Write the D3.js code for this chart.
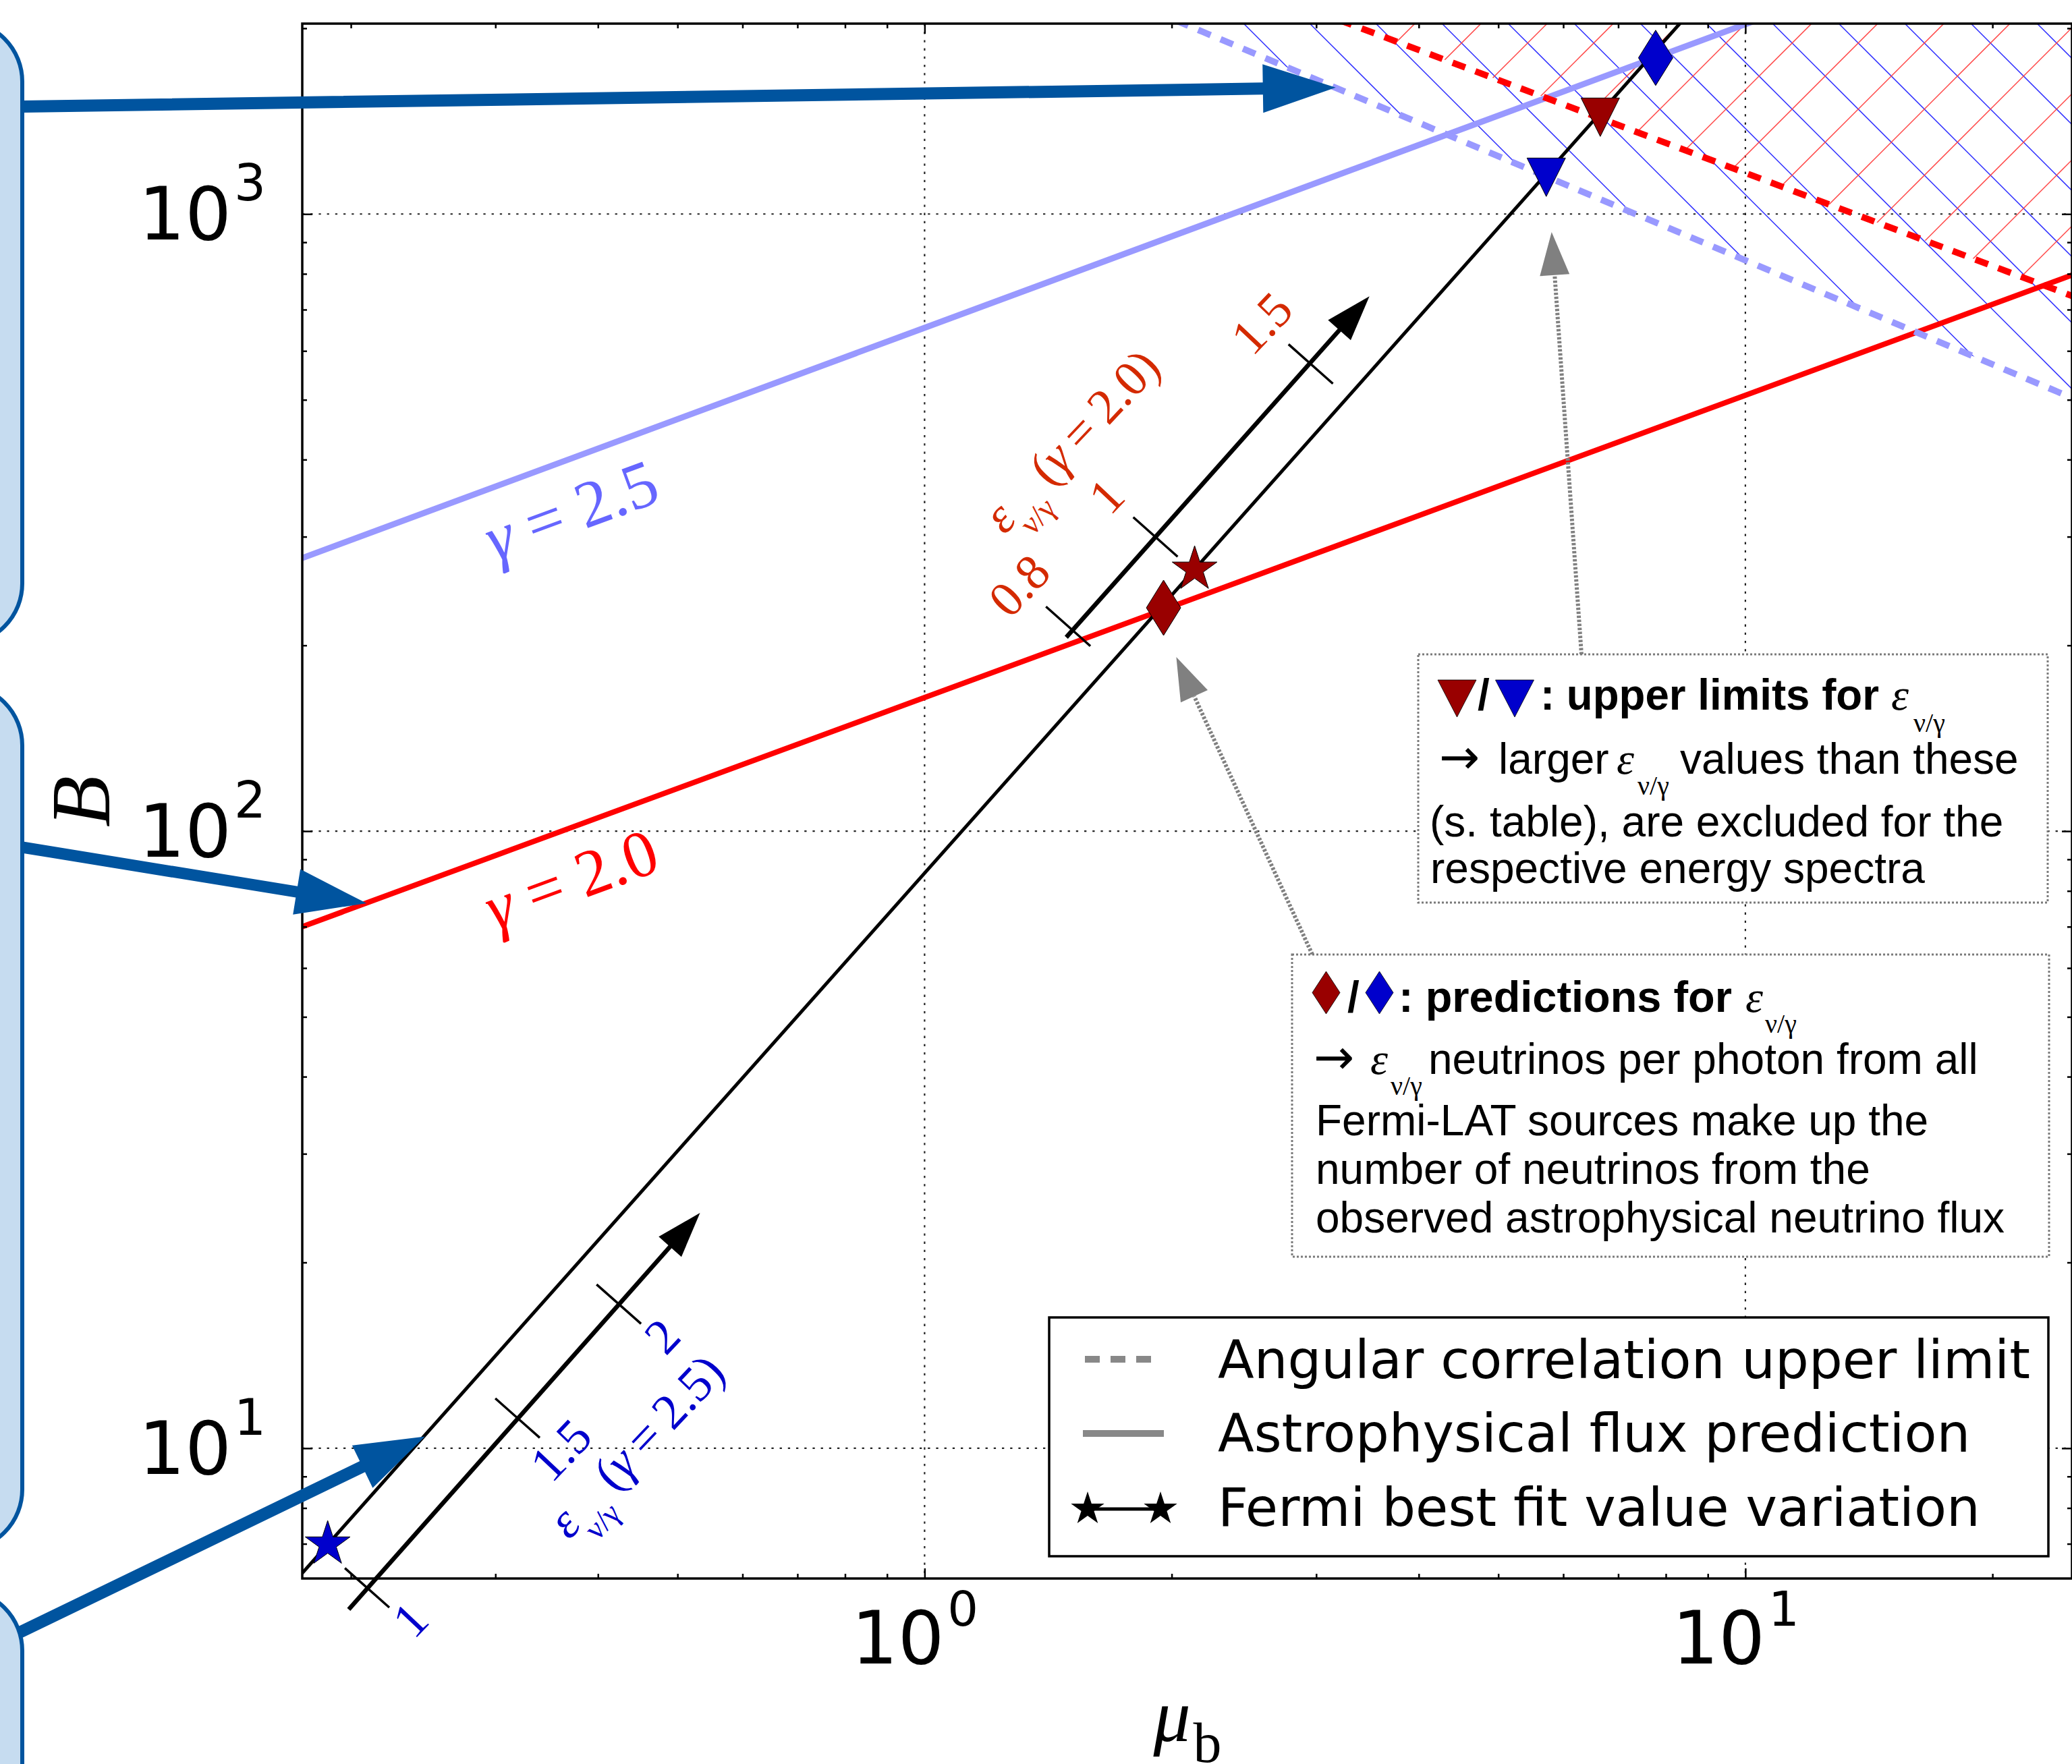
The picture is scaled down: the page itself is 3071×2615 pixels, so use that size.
<!DOCTYPE html>
<html>
<head>
<meta charset="utf-8">
<script src="https://cdn.jsdelivr.net/npm/d3@7/dist/d3.min.js"></script>
<style>
html,body{margin:0;padding:0;background:#fff;}
svg{display:block;}
</style>
</head>
<body>
<svg id="chart" width="3071" height="2615" xmlns="http://www.w3.org/2000/svg"></svg>
<script>
// ---------------- data ----------------
const xDomain = [0.1745, 25];            // mu_b
const yDomain = [6.15, 2035];            // B
const xMajorTicks = [1, 10];
const xMajorExp = ["0", "1"];
const yMajorTicks = [10, 100, 1000];
const yMajorExp = ["1", "2", "3"];
const xMinorTicks = [0.2,0.3,0.4,0.5,0.6,0.7,0.8,0.9,2,3,4,5,6,7,8,9,20];
const yMinorTicks = [7,8,9,20,30,40,50,60,70,80,90,200,300,400,500,600,700,800,900,2000];

// astrophysical flux prediction (solid lines)
const fluxG25 = [[0.16, 265.5], [11, 2128]];
const fluxG20 = [[0.16, 67.1], [28, 841.8]];
// angular correlation upper limit (dashed lines)
const limitG25 = [[1.9, 2133], [28, 472.7]];
const limitG20 = [[3.0, 2130], [28, 696.2]];
// Fermi best fit value variation
const fermiLine = [[0.16, 5.51], [9.0, 2289]];
const fermiStarMu = [0.1874, 2.133];
const fermiStarB  = [6.99, 265.6];
const fermiStarGamma = ["2.5", "2.0"];
// predictions (diamonds)
const predMu = [1.955, 7.775];
const predB  = [230.1, 1791];
const predGamma = ["2.0", "2.5"];
// upper limits (down triangles)
const limMu = [6.656, 5.72];
const limB  = [1435, 1147];
const limGamma = ["2.0", "2.5"];
// epsilon scales along the Fermi line
const scaleG20 = {start: [1.488, 206.1], tip: [3.483, 735.6]};
const scaleG20Labels = ["0.8", "1", "1.5"];
const scaleG20Mu = [1.496, 1.911, 2.954];
const scaleG20B  = [214.7, 299.7, 571.5];
const scaleG25 = {start: [0.1988, 5.48], tip: [0.5326, 24.06]};
const scaleG25Labels = ["1", "1.5", "2"];
const scaleG25Mu = [0.2093, 0.3192, 0.4241];
const scaleG25B  = [5.94, 11.19, 17.12];
const scaleTitleGamma = ["2.0", "2.5"];
const scaleTitleMu = [1.5198, 0.448];
const scaleTitleB  = [425.4, 10.0];
// gamma labels on the flux lines
const gammaLabelText = ["2.5", "2.0"];
const gammaLabelMu = [0.3790, 0.3790];
const gammaLabelB  = [306, 77.2];
// annotation arrow targets (data)
const noteTipMu = [5.807, 2.026];
const noteTipB  = [935, 191.5];
// big arrow targets (data)
const bigTipMu = [3.169, 0.209, 0.2462];
const bigTipB  = [1603, 76.4, 10.45];
// legend
const legendLabels = ["Angular correlation upper limit", "Astrophysical flux prediction", "Fermi best fit value variation"];
// text notes
const note1Lines = [": upper limits for", "larger", "values than these", "(s. table), are excluded for the", "respective energy spectra"];
const note2Lines = [": predictions for", "neutrinos per photon from all", "Fermi-LAT sources make up the", "number of neutrinos from the", "observed astrophysical neutrino flux"];

// ---------------- styles / layout ----------------
const W = 3071, H = 2615;
const plot = {left: 448, right: 3071, top: 35, bottom: 2340};
const COL = {
  g20: "#ff0000", g25: "#9999ff", g25text: "#6666ff",
  dark20: "#990000", dark25: "#0000cc",
  lab20: "#d42a00", lab25: "#0000cc",
  navy: "#00549f", boxFill: "#c6dcf0", gray: "#888888"
};
const SANS = "'Liberation Sans', Arial, sans-serif";
const DEJA = "'DejaVu Sans', sans-serif";
const SERIF = "'Liberation Serif', 'Times New Roman', serif";

const svg = d3.select("#chart");
svg.append("rect").attr("width", W).attr("height", H).attr("fill", "#fff");
const defs = svg.append("defs");

const x = d3.scaleLog().domain(xDomain).range([plot.left, plot.right]);
const y = d3.scaleLog().domain(yDomain).range([plot.bottom, plot.top]);
const line = d3.line().x(d => x(d[0])).y(d => y(d[1]));

defs.append("clipPath").attr("id", "plotClip").append("rect")
  .attr("x", plot.left).attr("y", plot.top)
  .attr("width", plot.right - plot.left).attr("height", plot.bottom - plot.top);

const gPlot = svg.append("g").attr("clip-path", "url(#plotClip)");

// gridlines
xMajorTicks.forEach(v => {
  gPlot.append("line").attr("x1", x(v)).attr("x2", x(v)).attr("y1", plot.top).attr("y2", plot.bottom)
    .attr("stroke", "#222").attr("stroke-width", 2.2).attr("stroke-dasharray", "3.3,8.9");
});
yMajorTicks.forEach(v => {
  gPlot.append("line").attr("y1", y(v)).attr("y2", y(v)).attr("x1", plot.left).attr("x2", plot.right)
    .attr("stroke", "#222").attr("stroke-width", 2.2).attr("stroke-dasharray", "3.3,8.9");
});

// hatched excluded regions
function hatchRegion(id, limit, dir, phase, color) {
  const poly = limit.concat([[limit[limit.length - 1][0], limit[0][1]]]);
  defs.append("clipPath").attr("id", id).append("path").attr("d", line(poly) + "Z");
  const g = gPlot.append("g").attr("clip-path", `url(#${id})`);
  const P = 98, y0 = plot.top - 200, y1 = plot.bottom + 200;
  d3.range(-40, 60).forEach(k => {
    const c = phase + k * P;
    if (dir === "back") {       // x - y = c
      g.append("line").attr("x1", c + y0).attr("y1", y0).attr("x2", c + y1).attr("y2", y1)
        .attr("stroke", color).attr("stroke-width", 1.5);
    } else {                    // x + y = c
      g.append("line").attr("x1", c - y0).attr("y1", y0).attr("x2", c - y1).attr("y2", y1)
        .attr("stroke", color).attr("stroke-width", 1.5);
    }
  });
}
hatchRegion("hatch25", limitG25, "back", 44.4, "#3333ff");
hatchRegion("hatch20", limitG20, "fwd", 74, "#ff4444");

// flux prediction lines
gPlot.append("path").attr("d", line(fluxG25)).attr("fill", "none").attr("stroke", COL.g25).attr("stroke-width", 9);
gPlot.append("path").attr("d", line(fluxG20)).attr("fill", "none").attr("stroke", COL.g20).attr("stroke-width", 8);
// angular correlation upper limits
gPlot.append("path").attr("d", line(limitG25)).attr("fill", "none").attr("stroke", COL.g25).attr("stroke-width", 9.5).attr("stroke-dasharray", "20,16");
gPlot.append("path").attr("d", line(limitG20)).attr("fill", "none").attr("stroke", COL.g20).attr("stroke-width", 9.5).attr("stroke-dasharray", "20,16");
// Fermi line
gPlot.append("path").attr("d", line(fermiLine)).attr("fill", "none").attr("stroke", "#000").attr("stroke-width", 5);

// ---------------- epsilon scales ----------------
function drawScale(sc, labels, mus, Bs, side, col, labelOff, labelAlong) {
  const g = svg.append("g");
  const p0 = [x(sc.start[0]), y(sc.start[1])], p1 = [x(sc.tip[0]), y(sc.tip[1])];
  const dx = p1[0] - p0[0], dy = p1[1] - p0[1], L = Math.hypot(dx, dy);
  const ux = dx / L, uy = dy / L, nx = uy, ny = -ux;
  const headL = 67, headW = 45;
  const bx = p1[0] - ux * headL, by = p1[1] - uy * headL;
  g.append("line").attr("x1", p0[0]).attr("y1", p0[1]).attr("x2", bx + ux * 3).attr("y2", by + uy * 3)
    .attr("stroke", "#000").attr("stroke-width", 6.5);
  g.append("path").attr("d", `M${p1[0]},${p1[1]}L${bx + nx * headW / 2},${by + ny * headW / 2}L${bx - nx * headW / 2},${by - ny * headW / 2}Z`)
    .attr("fill", "#000");
  labels.forEach((lab, i) => {
    const px = x(mus[i]), py = y(Bs[i]);
    g.append("line").attr("x1", px + nx * 44).attr("y1", py + ny * 44).attr("x2", px - nx * 44).attr("y2", py - ny * 44)
      .attr("stroke", "#000").attr("stroke-width", 3.5);
    const lx = px + side * nx * labelOff + ux * labelAlong, ly = py + side * ny * labelOff + uy * labelAlong;
    g.append("text").attr("transform", `translate(${lx},${ly}) rotate(-46.5)`)
      .attr("text-anchor", "middle").attr("dy", "0.33em")
      .attr("font-family", SERIF).attr("font-size", 74).attr("fill", col).text(lab);
  });
}
drawScale(scaleG20, scaleG20Labels, scaleG20Mu, scaleG20B, 1, COL.lab20, 94, -3);
drawScale(scaleG25, scaleG25Labels, scaleG25Mu, scaleG25B, -1, COL.lab25, 80, 7);

scaleTitleGamma.forEach((gm, i) => {
  const col = gm === "2.0" ? COL.lab20 : COL.lab25;
  const t = svg.append("text")
    .attr("transform", `translate(${x(scaleTitleMu[i])},${y(scaleTitleB[i])}) rotate(-46.5)`)
    .attr("text-anchor", "middle").attr("y", 20)
    .attr("font-family", SERIF).attr("font-size", 74).attr("fill", col);
  t.append("tspan").attr("font-style", "italic").text("ε");
  t.append("tspan").attr("font-size", 46).attr("dy", 31).attr("dx", -1).text("ν/γ");
  t.append("tspan").attr("dy", -31).attr("dx", 16).text("(");
  t.append("tspan").attr("font-style", "italic").text("γ");
  t.append("tspan").text("\u2009=\u2009" + gm + ")");
});

// ---------------- markers ----------------
const starPath = R => d3.symbol(d3.symbolStar, R * R / 0.8908130915292852)();
function triDown(w, h) { return `M0,${h / 2}L${-w / 2},${-h / 2}L${w / 2},${-h / 2}Z`; }
function thinDiamond(w, h) { return `M0,${-h / 2}L${w / 2},0L0,${h / 2}L${-w / 2},0Z`; }
const colOf = gm => gm === "2.0" ? COL.dark20 : COL.dark25;

limMu.forEach((m, i) => {
  svg.append("path").attr("d", triDown(57, 57)).attr("transform", `translate(${x(m)},${y(limB[i])})`)
    .attr("fill", colOf(limGamma[i])).attr("stroke", "#000").attr("stroke-width", 1);
});
predMu.forEach((m, i) => {
  svg.append("path").attr("d", thinDiamond(51, 82)).attr("transform", `translate(${x(m)},${y(predB[i])})`)
    .attr("fill", colOf(predGamma[i])).attr("stroke", "#000").attr("stroke-width", 1);
});
fermiStarMu.forEach((m, i) => {
  svg.append("path").attr("d", starPath(35)).attr("transform", `translate(${x(m)},${y(fermiStarB[i])})`)
    .attr("fill", colOf(fermiStarGamma[i])).attr("stroke", "#000").attr("stroke-width", 1);
});

// gamma labels on the flux lines
gammaLabelText.forEach((gm, i) => {
  const t = svg.append("text")
    .attr("transform", `translate(${x(gammaLabelMu[i])},${y(gammaLabelB[i])}) rotate(-20.2)`)
    .attr("text-anchor", "middle").attr("font-family", SERIF).attr("font-size", 98)
    .attr("fill", gm === "2.5" ? COL.g25text : COL.g20);
  t.append("tspan").attr("font-style", "italic").text("γ");
  t.append("tspan").text(" = " + gm);
});

// ---------------- annotation notes ----------------
const box1 = {x: 2102, y: 970, w: 933, h: 368};
const box2 = {x: 1915, y: 1415, w: 1122, h: 448};

function grayArrow(tail, tipMu, tipB) {
  const tip = [x(tipMu), y(tipB)];
  const dx = tip[0] - tail[0], dy = tip[1] - tail[1], L = Math.hypot(dx, dy);
  const ux = dx / L, uy = dy / L, nx = -uy, ny = ux;
  const hl = 64, hw = 44;
  const bx = tip[0] - ux * hl, by = tip[1] - uy * hl;
  svg.append("line").attr("x1", tail[0]).attr("y1", tail[1]).attr("x2", bx).attr("y2", by)
    .attr("stroke", "#808080").attr("stroke-width", 6).attr("stroke-dasharray", "3.5,2.5");
  svg.append("path").attr("d", `M${tip[0]},${tip[1]}L${bx + nx * hw / 2},${by + ny * hw / 2}L${bx - nx * hw / 2},${by - ny * hw / 2}Z`)
    .attr("fill", "#808080");
}
grayArrow([2344, box1.y], noteTipMu[0], noteTipB[0]);
grayArrow([1945, box2.y], noteTipMu[1], noteTipB[1]);

[box1, box2].forEach(b => {
  svg.append("rect").attr("x", b.x).attr("y", b.y).attr("width", b.w).attr("height", b.h)
    .attr("fill", "#fff").attr("stroke", "#7a7a7a").attr("stroke-width", 3).attr("stroke-dasharray", "3,3");
});

function txt(xx, yy, s, o) {
  o = o || {};
  const t = svg.append("text").attr("x", xx).attr("y", yy)
    .attr("font-family", o.family || SANS).attr("font-size", o.size || 64)
    .attr("font-weight", o.weight || "normal").attr("font-style", o.style || "normal")
    .attr("fill", o.fill || "#000").text(s);
  if (o.len) t.attr("textLength", o.len).attr("lengthAdjust", "spacingAndGlyphs");
  return t;
}
// note 1
svg.append("path").attr("d", triDown(57, 55)).attr("transform", "translate(2159.5,1035.5)").attr("fill", COL.dark20).attr("stroke", "#000").attr("stroke-width", 0.8);
svg.append("path").attr("d", triDown(57, 55)).attr("transform", "translate(2245,1035.5)").attr("fill", COL.dark25).attr("stroke", "#000").attr("stroke-width", 0.8);
txt(2190, 1052, "/", {weight: "bold", size: 64});
txt(2283, 1052, note1Lines[0], {weight: "bold", size: 64, len: 502});
txt(2803, 1052, "ε", {family: SERIF, style: "italic", size: 66});
txt(2836, 1085, "ν/γ", {family: SERIF, size: 40});
txt(2133, 1147, "→", {family: DEJA, size: 72});
txt(2221, 1147, note1Lines[1], {size: 64});
txt(2396, 1147, "ε", {family: SERIF, style: "italic", size: 66});
txt(2427, 1178, "ν/γ", {family: SERIF, size: 40});
txt(2490, 1147, note1Lines[2], {size: 64});
txt(2119, 1240, note1Lines[3], {size: 64});
txt(2120, 1309, note1Lines[4], {size: 64});
// note 2
svg.append("path").attr("d", thinDiamond(41, 63)).attr("transform", "translate(1965.5,1471.5)").attr("fill", COL.dark20).attr("stroke", "#000").attr("stroke-width", 0.8);
svg.append("path").attr("d", thinDiamond(41, 63)).attr("transform", "translate(2044.5,1471.5)").attr("fill", COL.dark25).attr("stroke", "#000").attr("stroke-width", 0.8);
txt(1997, 1500, "/", {weight: "bold", size: 64});
txt(2073, 1500, note2Lines[0], {weight: "bold", size: 64, len: 494});
txt(2587, 1500, "ε", {family: SERIF, style: "italic", size: 66});
txt(2616, 1531, "ν/γ", {family: SERIF, size: 40});
txt(1947, 1592, "→", {family: DEJA, size: 72});
txt(2031, 1592, "ε", {family: SERIF, style: "italic", size: 66});
txt(2061, 1623, "ν/γ", {family: SERIF, size: 40});
txt(2117, 1592, note2Lines[1], {size: 64});
txt(1950, 1683, note2Lines[2], {size: 64});
txt(1950, 1755, note2Lines[3], {size: 64});
txt(1950, 1827, note2Lines[4], {size: 64});

// ---------------- legend ----------------
const lg = {x: 1555, y: 1953, w: 1481, h: 354};
svg.append("rect").attr("x", lg.x).attr("y", lg.y).attr("width", lg.w).attr("height", lg.h)
  .attr("fill", "#fff").attr("stroke", "#000").attr("stroke-width", 3.5);
const rowsY = [2015, 2125, 2237];
const baseY = [2043, 2152, 2262];
svg.append("line").attr("x1", 1608).attr("x2", 1720).attr("y1", rowsY[0]).attr("y2", rowsY[0])
  .attr("stroke", COL.gray).attr("stroke-width", 10).attr("stroke-dasharray", "22,16");
svg.append("line").attr("x1", 1605).attr("x2", 1725).attr("y1", rowsY[1]).attr("y2", rowsY[1])
  .attr("stroke", COL.gray).attr("stroke-width", 10);
svg.append("line").attr("x1", 1612).attr("x2", 1720).attr("y1", rowsY[2]).attr("y2", rowsY[2])
  .attr("stroke", "#000").attr("stroke-width", 5);
[1612, 1720].forEach(sx => {
  svg.append("path").attr("d", starPath(26)).attr("transform", `translate(${sx},${rowsY[2]})`).attr("fill", "#000");
});
legendLabels.forEach((s, i) => txt(1805, baseY[i], s, {family: DEJA, size: 78.5}));

// ---------------- axes: spines, ticks, labels ----------------
const axG = svg.append("g");
function addAxis(fn, scale, vals, size, tr) {
  const a = fn(scale).tickValues(vals).tickSize(size).tickFormat("");
  const g = axG.append("g").attr("transform", tr).call(a);
  g.select(".domain").remove();
  g.selectAll("text").remove();
  g.selectAll(".tick line").attr("stroke", "#000").attr("stroke-width", 2.5);
}
addAxis(d3.axisBottom, x, xMajorTicks, -15, `translate(0,${plot.bottom})`);
addAxis(d3.axisBottom, x, xMinorTicks, -7, `translate(0,${plot.bottom})`);
addAxis(d3.axisTop, x, xMajorTicks, -15, `translate(0,${plot.top})`);
addAxis(d3.axisTop, x, xMinorTicks, -7, `translate(0,${plot.top})`);
addAxis(d3.axisLeft, y, yMajorTicks, -15, `translate(${plot.left},0)`);
addAxis(d3.axisLeft, y, yMinorTicks, -7, `translate(${plot.left},0)`);
addAxis(d3.axisRight, y, yMajorTicks, -15, `translate(${plot.right},0)`);
addAxis(d3.axisRight, y, yMinorTicks, -7, `translate(${plot.right},0)`);
axG.append("rect").attr("x", plot.left).attr("y", plot.top)
  .attr("width", plot.right - plot.left).attr("height", plot.bottom - plot.top)
  .attr("fill", "none").attr("stroke", "#000").attr("stroke-width", 3.5);

yMajorTicks.forEach((v, i) => {
  txt(343, y(v) + 38, "10", {family: DEJA, size: 108}).attr("text-anchor", "end");
  txt(347, y(v) - 20, yMajorExp[i], {family: DEJA, size: 74});
});
xMajorTicks.forEach((v, i) => {
  txt(x(v) + 29, plot.bottom + 126, "10", {family: DEJA, size: 108}).attr("text-anchor", "end");
  txt(x(v) + 34, plot.bottom + 70, xMajorExp[i], {family: DEJA, size: 72});
});
// axis titles
svg.append("text").attr("transform", "translate(118,1188) rotate(-90)")
  .attr("text-anchor", "middle").attr("dy", "0.35em")
  .attr("font-family", SERIF).attr("font-style", "italic").attr("font-size", 125).text("B");
{
  const t = svg.append("text").attr("x", 1760).attr("y", 2581).attr("text-anchor", "middle")
    .attr("font-family", SERIF).attr("font-size", 110);
  t.append("tspan").attr("font-style", "italic").text("μ");
  t.append("tspan").attr("font-size", 84).attr("dy", 31).attr("dx", 4).text("b");
}

// ---------------- left boxes and big arrows ----------------
const leftBoxes = [[31, 955], [1015, 2298], [2357, 3000]];
leftBoxes.forEach(b => {
  svg.append("rect").attr("x", -200).attr("y", b[0]).attr("width", 233).attr("height", b[1] - b[0])
    .attr("rx", 90).attr("ry", 90).attr("fill", COL.boxFill).attr("stroke", COL.navy).attr("stroke-width", 6);
});
const bigTails = [[33, 158], [33, 1256], [29, 2420]];
const bigHeads = [[18, 72, 108], [17, 68, 105], [18, 70, 103]];
bigTipMu.forEach((m, i) => {
  const tip = [x(m), y(bigTipB[i])], tail = bigTails[i];
  const [sw, hw, hl] = bigHeads[i];
  const dx = tip[0] - tail[0], dy = tip[1] - tail[1], L = Math.hypot(dx, dy);
  const ux = dx / L, uy = dy / L, nx = -uy, ny = ux;
  const bx = tip[0] - ux * hl, by = tip[1] - uy * hl;
  const pts = [
    [tail[0] + nx * sw / 2, tail[1] + ny * sw / 2],
    [bx + nx * sw / 2, by + ny * sw / 2],
    [bx + nx * hw / 2, by + ny * hw / 2],
    tip,
    [bx - nx * hw / 2, by - ny * hw / 2],
    [bx - nx * sw / 2, by - ny * sw / 2],
    [tail[0] - nx * sw / 2, tail[1] - ny * sw / 2]
  ];
  svg.append("path").attr("d", "M" + pts.map(p => p.join(",")).join("L") + "Z").attr("fill", COL.navy);
});
</script>
</body>
</html>
